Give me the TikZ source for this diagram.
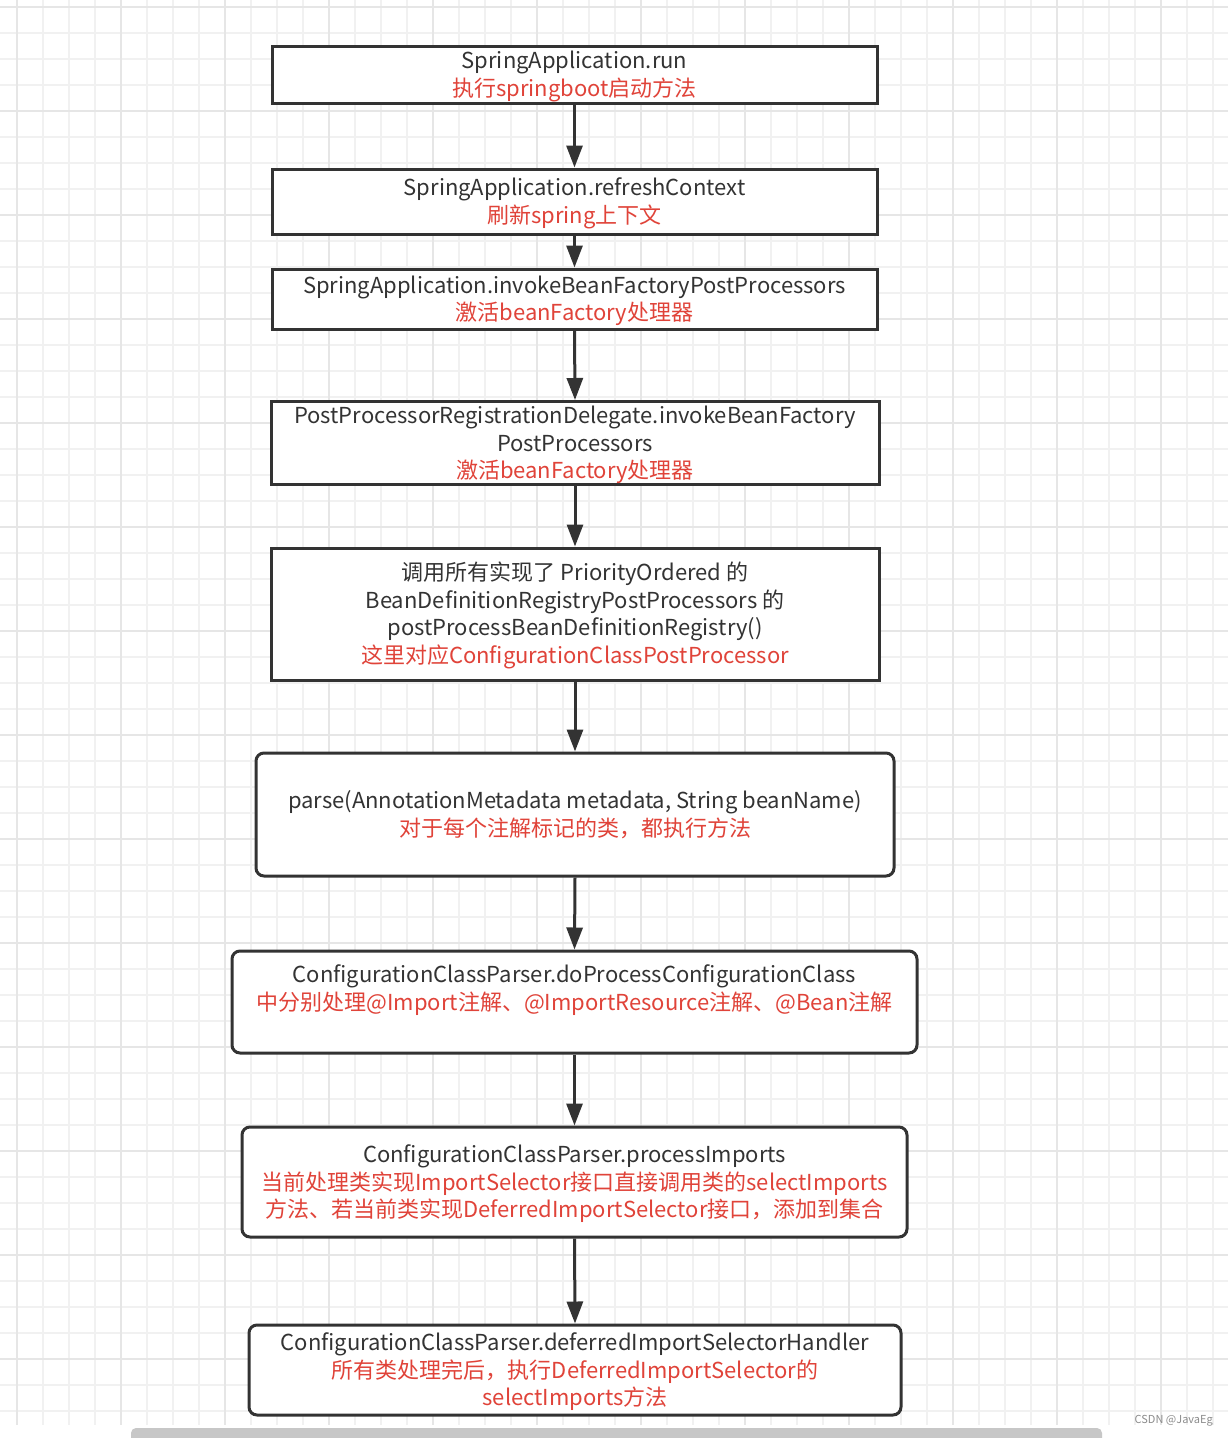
\documentclass[tikz,border=0pt]{standalone}
\usepackage{fontspec}
\setmainfont{Noto Sans CJK SC}
\usetikzlibrary{arrows.meta}
\definecolor{ink}{HTML}{333333}
\definecolor{redt}{RGB}{224,67,57}
\definecolor{gridminor}{HTML}{F1F1F1}
\definecolor{gridmajor}{HTML}{E6E6E6}
\newcommand{\rd}[1]{\textcolor{redt}{#1}}
\newcommand{\tS}{\rule{0pt}{22pt}}
\newcommand{\bS}{\rule[-6pt]{0pt}{6pt}}
\begin{document}
\begin{tikzpicture}[x=1pt,y=-1pt,
  box/.style={draw=ink, line width=3pt, fill=white, align=center, text=ink,
    font=\fontsize{22}{27.5}\selectfont, inner sep=0pt},
  rbox/.style={box, rounded corners=8pt},
  arr/.style={draw=ink, line width=3pt, -{Triangle[length=22pt,width=16pt]}}]
\useasboundingbox (0,0) rectangle (1228,1438);
\fill[white] (0,0) rectangle (1228,1438);
% grid
\foreach \i in {0,...,46}{\pgfmathsetmacro\xx{17+26*\i}
  \draw[gridminor, line width=1.5pt] (\xx,0) -- (\xx,1425);}
\foreach \i in {0,...,54}{\pgfmathsetmacro\yy{7+26*\i}
  \draw[gridminor, line width=1.5pt] (0,\yy) -- (1228,\yy);}
\foreach \i in {0,...,11}{\pgfmathsetmacro\xx{17+104*\i}
  \draw[gridmajor, line width=2pt] (\xx,0) -- (\xx,1425);}
\foreach \i in {0,...,13}{\pgfmathsetmacro\yy{7+104*\i}
  \draw[gridmajor, line width=2pt] (0,\yy) -- (1228,\yy);}
% scrollbar
\begin{scope}
\clip (0,0) rectangle (1228,1438);
\fill[black!22, rounded corners=5pt] (131,1428) rectangle (1102,1448);
\end{scope}
% boxes
\node[box, minimum width=605, minimum height=57] (b1) at (574.5,74.5)
  {\tS SpringApplication.run\\ \rd{执行springboot启动方法}\bS};
\node[box, minimum width=605, minimum height=65] (b2) at (574.5,201.5)
  {\tS SpringApplication.refreshContext\\ \rd{刷新spring上下文}\bS};
\node[box, minimum width=605, minimum height=60] (b3) at (574.5,299)
  {\tS SpringApplication.invokeBeanFactoryPostProcessors\\ \rd{激活beanFactory处理器}\bS};
\node[box, minimum width=608, minimum height=80] (b4) at (575,443)
  {\tS PostProcessorRegistrationDelegate.invokeBeanFactory\\ PostProcessors\\ \rd{激活beanFactory处理器}\bS};
\node[box, minimum width=608, minimum height=132] (b5) at (575,614)
  {\tS 调用所有实现了 PriorityOrdered 的\\ BeanDefinitionRegistryPostProcessors 的\\ postProcessBeanDefinitionRegistry()\\ \rd{这里对应ConfigurationClassPostProcessor}\bS};
\node[rbox, minimum width=638, minimum height=123] (b6) at (575,814.5)
  {\tS parse(AnnotationMetadata metadata, String beanName)\\ \rd{对于每个注解标记的类，都执行方法}\bS};
\node[rbox, minimum width=685, minimum height=102] (b7) at (574.5,1002)
  {\tS ConfigurationClassParser.doProcessConfigurationClass\\ \rd{中分别处理@Import注解、@ImportResource注解、@Bean注解}\\ ~\bS};
\node[rbox, minimum width=665, minimum height=110] (b8) at (574.5,1182)
  {\tS ConfigurationClassParser.processImports\\ \rd{当前处理类实现ImportSelector接口直接调用类的selectImports}\\ \rd{方法、若当前类实现DeferredImportSelector接口，添加到集合}\bS};
\node[rbox, minimum width=652, minimum height=90] (b9) at (575,1370)
  {\tS ConfigurationClassParser.deferredImportSelectorHandler\\ \rd{所有类处理完后，执行DeferredImportSelector的}\\ \rd{selectImports方法}\bS};
% arrows
\draw[arr] (b1.south) -- (b2.north);
\draw[arr] (b2.south) -- (b3.north);
\draw[arr] (b3.south) -- (b4.north);
\draw[arr] (b4.south) -- (b5.north);
\draw[arr] (b5.south) -- (b6.north);
\draw[arr] (b6.south) -- (b7.north);
\draw[arr] (b7.south) -- (b8.north);
\draw[arr] (b8.south) -- (b9.north);
% watermark
\node[anchor=east, text=black!45, font=\fontsize{11}{13}\selectfont, inner sep=0pt] (wm) at (1213,1421) {CSDN @JavaEg};
\end{tikzpicture}
\end{document}
